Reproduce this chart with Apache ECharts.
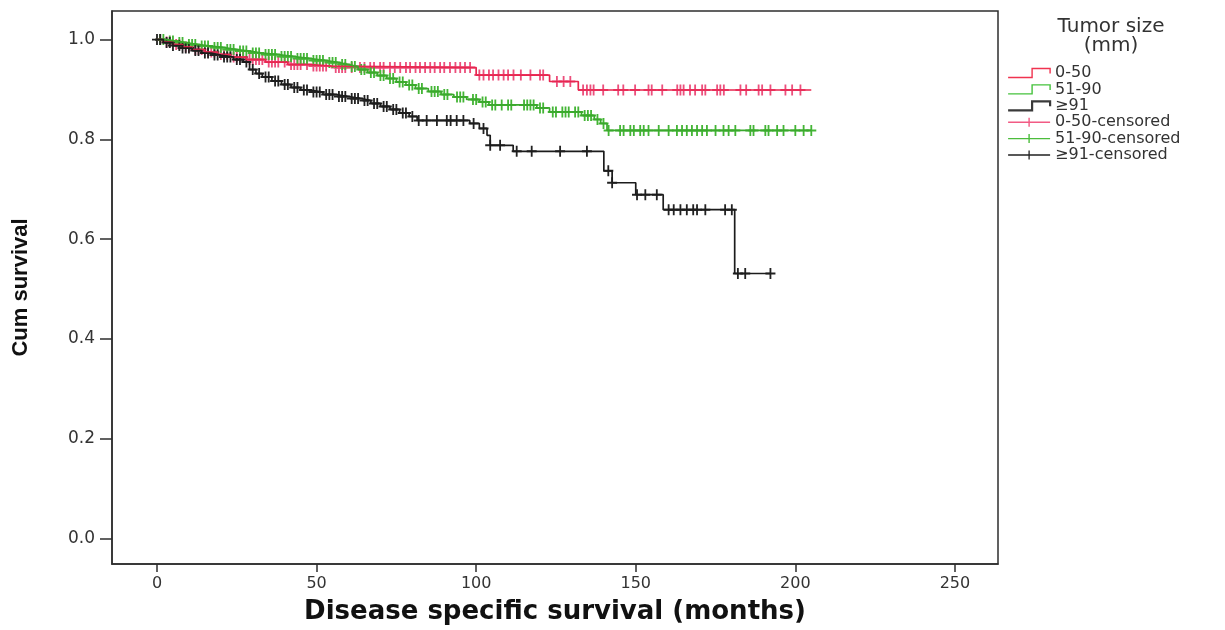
<!DOCTYPE html>
<html>
<head>
<meta charset="utf-8">
<title>Disease specific survival by tumor size</title>
<script src="https://cdn.jsdelivr.net/npm/echarts@6/dist/echarts.min.js"></script>
<style>
  html, body { margin: 0; padding: 0; background: #fff; }
  #chart { width: 1225px; height: 630px; }
</style>
</head>
<body>
<div id="chart"></div>
<script>
var xTicks = [0, 50, 100, 150, 200, 250]
var yTicks = [0, 0.2, 0.4, 0.6, 0.8, 1.0]

// 0-50 mm : event times (months) and cumulative survival after each step
var redTime = [0, 2, 5, 8, 11, 15, 19, 23, 28, 34, 41, 48, 55, 100, 123, 132]
var redSurv = [1.0, 0.995, 0.99, 0.985, 0.98, 0.975, 0.97, 0.965, 0.96, 0.955, 0.95, 0.947, 0.944, 0.929, 0.916, 0.899]
var redEnd = 205
var redCensored = [1, 3, 4, 6, 7, 9, 10, 12, 13, 14, 16, 17, 18, 20, 21, 22, 24, 25, 26, 27, 29, 30, 31, 32, 33, 35, 36, 37, 38, 40, 42, 43, 44, 45, 47, 49, 50, 51, 52, 53, 56, 57, 58, 59, 61, 63.6, 65, 66.8, 68, 69.9, 71, 73, 74.5, 76.2, 78, 79.3, 81, 82.4, 84, 85.6, 87, 88.7, 90, 91.8, 93.5, 95, 96.5, 98.1, 101, 102.3, 104, 105.3, 107, 108.6, 110, 111.7, 114, 117, 120, 121, 125.3, 127.4, 129.5, 133.5, 134.7, 135.8, 136.8, 139.8, 144.5, 146.1, 149.8, 154, 155, 158.3, 163, 164, 165, 167, 168.6, 170.8, 171.8, 175.5, 176.5, 177.6, 182.8, 184.6, 188.5, 189.6, 192.2, 196.9, 199, 201.6]

// 51-90 mm
var greenTime = [0, 3, 6, 9, 13, 17, 21, 25, 29, 33, 38, 43, 48, 53, 57, 60, 63, 66, 69, 72, 75, 78, 81, 85, 89, 93, 97, 101, 104, 119, 123, 133, 137, 139, 141]
var greenSurv = [1.0, 0.997, 0.994, 0.99, 0.987, 0.984, 0.98, 0.977, 0.973, 0.97, 0.966, 0.962, 0.958, 0.954, 0.95, 0.946, 0.94, 0.934, 0.928, 0.922, 0.915, 0.909, 0.902, 0.896, 0.89, 0.885, 0.88, 0.875, 0.869, 0.863, 0.855, 0.848, 0.84, 0.832, 0.818]
var greenEnd = 205
var greenCensored = [1, 2, 4, 5, 7, 8, 10, 11, 12, 14, 15, 16, 18, 19, 20, 22, 23, 24, 26, 27, 28, 30, 31, 32, 34, 35, 36, 37, 39, 40, 41, 42, 44, 45, 46, 47, 49, 50, 51, 52, 54, 55, 56, 58, 59, 61, 62, 64, 65, 67, 68, 70, 71, 73, 74, 76, 77, 79, 80, 82, 83, 86, 87, 88, 90, 91, 94, 95, 96, 99, 100, 102, 103, 105, 106, 108, 110, 111, 115, 116, 117, 118, 120, 121, 124, 125, 127, 128, 129, 131, 132, 134, 135, 136, 138, 139.9, 141.5, 145.1, 146.2, 148.3, 149.4, 151.4, 152.5, 154, 157.2, 160.3, 162.9, 164.5, 166, 167.6, 169.2, 170.8, 172.3, 175, 177.5, 179.1, 181.2, 185.9, 186.9, 190.6, 191.6, 194.3, 196.3, 200, 202.6, 205]

// >=91 mm
var blackTime = [0, 2, 5, 8, 11, 14, 17, 20, 24, 27, 29, 31, 33, 36, 39, 42, 45, 48, 52, 56, 60, 64, 67, 70, 73, 76, 79, 81.5, 98, 101, 103.4, 104.4, 111.6, 140, 142.6, 150, 158.6, 181]
var blackSurv = [1.0, 0.994, 0.988, 0.983, 0.978, 0.973, 0.969, 0.965, 0.96, 0.955, 0.94, 0.932, 0.925, 0.917, 0.91, 0.904, 0.899, 0.895, 0.89, 0.886, 0.882, 0.878, 0.872, 0.866, 0.86, 0.853, 0.846, 0.838, 0.832, 0.822, 0.808, 0.788, 0.776, 0.737, 0.713, 0.689, 0.659, 0.531]
var blackEnd = 192.2
var blackCensored = [0, 1, 3, 4, 5, 7, 8, 9, 10, 12, 13, 15, 16, 18, 19, 21, 22, 23, 25, 26, 28, 30, 32, 34, 35, 37, 38, 40, 41, 43, 44, 46, 47, 49, 50, 51, 53, 54, 55, 57, 58, 59, 61, 62, 63, 65, 66, 68, 69, 71, 72, 74, 75, 77, 78, 80, 82, 84.5, 87.7, 90.8, 92, 93.9, 96, 99.2, 102.3, 104.4, 107.5, 112.7, 117.4, 126.3, 134.7, 141.4, 142.6, 150.4, 153, 156.6, 160.3, 161.9, 164, 166, 168, 169.2, 171.8, 178, 180.1, 182, 184.3, 192.2]

var axisColor = '#2e2e2e'
var font = 'DejaVu Sans'

// step points of the curve, carried on to the last follow-up time
function curve(times, surv, end) {
  var pts = times.map(function(t, i) { return [t, surv[i]] })
  pts.push([end, surv[surv.length - 1]])
  return pts
}

// survival value of the curve at a censoring time
function censorPoints(times, surv, censored) {
  return censored.map(function(c) {
    var s = surv[0]
    for (var i = 0; i < times.length; i++) {
      if (times[i] <= c) s = surv[i]
    }
    return [c, s]
  })
}

function lineSeries(name, color, data) {
  return {
    name: name,
    type: 'line',
    step: 'end',
    symbol: 'none',
    silent: true,
    lineStyle: { color: color, width: 1.7 },
    itemStyle: { color: color },
    data: data
  }
}

var plus = 'path://M5,0L5,11M0,5.5L10,5.5'

function censorSeries(name, color, data) {
  return {
    name: name,
    type: 'scatter',
    symbol: plus,
    symbolSize: [10, 11],
    silent: true,
    itemStyle: { color: 'transparent', borderColor: color, borderWidth: 1.9, opacity: 1 },
    data: data
  }
}

var stepIcon = 'path://M0,10L24,10L24,1L42,1L42,6'
var censorIcon = 'path://M0,5L42,5M21,0L21,10'

function legendItem(name, icon, color, width) {
  return {
    name: name,
    icon: icon,
    itemStyle: { color: 'transparent', borderColor: color, borderWidth: width }
  }
}

var option = {
  animation: false,
  grid: {
    left: 112,
    top: 11,
    width: 886,
    height: 560,
    show: true,
    borderColor: axisColor,
    borderWidth: 1.5
  },
  graphic: [{
    type: 'text',
    x: 1111,
    y: 17,
    style: {
      text: 'Tumor size\n(mm)',
      align: 'center',
      textAlign: 'center',
      fill: '#333',
      fontFamily: font,
      fontSize: 20,
      lineHeight: 19
    }
  }],
  legend: {
    orient: 'vertical',
    left: 1002,
    top: 60,
    itemWidth: 42,
    itemHeight: 9,
    itemGap: 0.4,
    symbolKeepAspect: false,
    textStyle: { color: '#333', fontFamily: font, fontSize: 16, lineHeight: 16 },
    data: [
      legendItem('0-50', stepIcon, '#f0334f', 1.4),
      legendItem('51-90', stepIcon, '#45c23c', 1.4),
      legendItem('≥91', stepIcon, '#3a3a3a', 2.2),
      legendItem('0-50-censored', censorIcon, '#f25a84', 1.4),
      legendItem('51-90-censored', censorIcon, '#4cbd3c', 1.4),
      legendItem('≥91-censored', censorIcon, '#222', 1.3)
    ]
  },
  xAxis: {
    type: 'value',
    min: -14.1,
    max: 263.5,
    name: 'Disease specific survival (months)',
    nameLocation: 'middle',
    nameGap: 35,
    nameTextStyle: { color: '#111', fontFamily: font, fontWeight: 'bold', fontSize: 26 },
    axisLine: { show: true, onZero: false, lineStyle: { color: axisColor, width: 1.5 } },
    axisTick: { show: true, customValues: xTicks, length: 8, lineStyle: { color: axisColor, width: 1.5 } },
    axisLabel: { customValues: xTicks, margin: 12, color: '#333', fontFamily: font, fontSize: 16 },
    splitLine: { show: false }
  },
  yAxis: {
    type: 'value',
    min: -0.0515,
    max: 1.0574,
    name: 'Cum survival',
    nameLocation: 'middle',
    nameGap: 80,
    nameTextStyle: {
      color: '#111',
      fontFamily: "'Liberation Sans', Arial, sans-serif",
      fontWeight: 'bold',
      fontSize: 22
    },
    axisLine: { show: true, onZero: false, lineStyle: { color: axisColor, width: 1.5 } },
    axisTick: { show: true, customValues: yTicks, length: 12, lineStyle: { color: axisColor, width: 1.5 } },
    axisLabel: {
      customValues: yTicks,
      margin: 17,
      color: '#333',
      fontFamily: font,
      fontSize: 17,
      formatter: function(v) { return v.toFixed(1) }
    },
    splitLine: { show: false }
  },
  series: [
    lineSeries('0-50', '#e8264f', curve(redTime, redSurv, redEnd)),
    censorSeries('0-50-censored', '#ec4f7c', censorPoints(redTime, redSurv, redCensored)),
    lineSeries('51-90', '#3aa82c', curve(greenTime, greenSurv, greenEnd)),
    censorSeries('51-90-censored', '#44b536', censorPoints(greenTime, greenSurv, greenCensored)),
    lineSeries('≥91', '#1c1c1c', curve(blackTime, blackSurv, blackEnd)),
    censorSeries('≥91-censored', '#222', censorPoints(blackTime, blackSurv, blackCensored))
  ]
}

var chart = echarts.init(document.getElementById('chart'))
chart.setOption(option, true)
window.addEventListener('resize', function() {
  chart.resize()
})
</script>
</body>
</html>
